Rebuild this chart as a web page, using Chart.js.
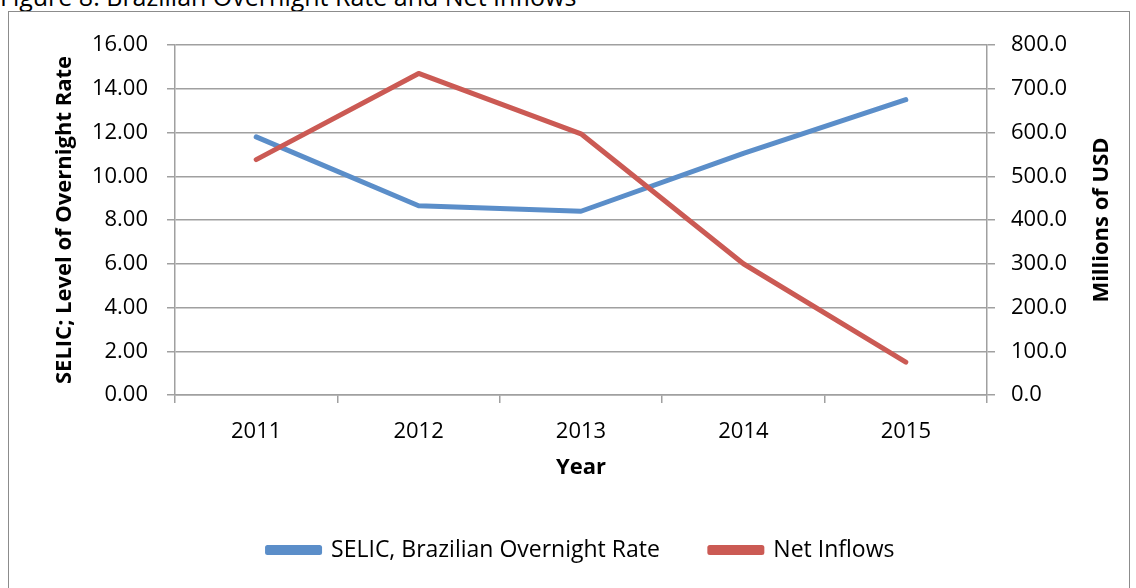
<!DOCTYPE html>
<html>
<head>
<meta charset="utf-8">
<script src="https://cdn.jsdelivr.net/npm/chart.js@4.4.1/dist/chart.umd.min.js"></script>
<style>
    html, body { margin: 0; padding: 0; background: #fff; }
    #wrap { position: relative; width: 1136px; height: 588px; overflow: hidden; }
    #caption {
        position: absolute; left: 0; top: -19px; line-height: 30px;
        font-size: 25px; font-family: "Open Sans", sans-serif; color: #000; white-space: nowrap;
    }
    #frame {
        position: absolute; left: 8px; top: 11px; width: 1120px; height: 600px;
        border: 1.5px solid #8c8c8c; pointer-events: none;
    }
    canvas { position: absolute; left: 0; top: 0; }
</style>
</head>
<body>
<div id="wrap">
    <div id="caption">Figure 8: Brazilian Overnight Rate and Net Inflows</div>
    <div id="frame"></div>
    <canvas id="chart" width="1136" height="588"></canvas>
</div>
<script>
// Chart data
const years = ['2011', '2012', '2013', '2014', '2015'];
const selicRate = [11.8, 8.65, 8.4, 11.05, 13.5];
const netInflows = [538, 735, 597, 300, 75];

const blue = '#5b8ec9';
const red = '#cb5a54';
const gridColor = '#a0a0a0';
const font = '"Open Sans", sans-serif';
const rightTitle = 'Millions of USD';

Chart.defaults.font.family = font;
Chart.defaults.color = '#000';

function fixWidth(w) {
    return scale => { scale.width = w; };
}

// right axis title reads bottom-to-top in the original, so draw it by hand
const rightTitlePlugin = {
    id: 'rightTitle',
    afterDraw(chart) {
        const { ctx, chartArea } = chart;
        ctx.save();
        ctx.translate(1102, (chartArea.top + chartArea.bottom) / 2);
        ctx.rotate(-Math.PI / 2);
        ctx.font = 'bold 22px ' + font;
        ctx.fillStyle = '#000';
        ctx.textAlign = 'center';
        ctx.textBaseline = 'middle';
        ctx.fillText(rightTitle, 0, 0);
        ctx.restore();
    }
};

new Chart(document.getElementById('chart'), {
    type: 'line',
    data: {
        labels: years,
        datasets: [{
            label: 'SELIC, Brazilian Overnight Rate',
            data: selicRate,
            yAxisID: 'y',
            borderColor: blue,
            backgroundColor: blue,
            borderWidth: 5,
            pointRadius: 0,
            tension: 0,
            borderCapStyle: 'round',
            borderJoinStyle: 'round',
            order: 1
        }, {
            label: 'Net Inflows',
            data: netInflows,
            yAxisID: 'y1',
            borderColor: red,
            backgroundColor: red,
            borderWidth: 5,
            pointRadius: 0,
            tension: 0,
            borderCapStyle: 'round',
            borderJoinStyle: 'round',
            order: 0
        }]
    },
    options: {
        responsive: false,
        animation: false,
        layout: {
            padding: { top: 45, bottom: 16.5, left: 0, right: 0 }
        },
        plugins: {
            tooltip: { enabled: false },
            legend: {
                position: 'bottom',
                fullSize: false,
                labels: {
                    boxWidth: 52,
                    boxHeight: 5,
                    padding: 50,
                    font: { size: 23 },
                    color: '#000',
                    sort: (a, b) => a.datasetIndex - b.datasetIndex
                }
            }
        },
        scales: {
            x: {
                offset: true,
                afterFit: scale => { scale.height = 93.5; },
                grid: {
                    offset: true,
                    drawOnChartArea: false,
                    drawTicks: true,
                    tickLength: 8,
                    color: gridColor,
                    lineWidth: 1.5
                },
                border: { display: true, color: gridColor, width: 1.5 },
                ticks: { font: { size: 22 }, padding: 16, maxRotation: 0 },
                title: {
                    display: true,
                    text: 'Year',
                    font: { size: 22, weight: 'bold' },
                    padding: { top: 0, bottom: 8 }
                }
            },
            y: {
                position: 'left',
                min: 0,
                max: 16,
                afterFit: fixWidth(175),
                grid: {
                    color: gridColor,
                    lineWidth: 1.5,
                    tickLength: 8
                },
                border: { display: true, color: gridColor, width: 1.5 },
                ticks: {
                    stepSize: 2,
                    padding: 19,
                    font: { size: 22 },
                    callback: v => v.toFixed(2)
                },
                title: {
                    display: true,
                    text: 'SELIC; Level of Overnight Rate',
                    font: { size: 22, weight: 'bold' },
                    padding: { top: 52, bottom: 0 }
                }
            },
            y1: {
                position: 'right',
                min: 0,
                max: 800,
                afterFit: fixWidth(149),
                grid: {
                    drawOnChartArea: false,
                    color: gridColor,
                    lineWidth: 1.5,
                    tickLength: 8
                },
                border: { display: true, color: gridColor, width: 1.5 },
                ticks: {
                    stepSize: 100,
                    padding: 16,
                    font: { size: 22 },
                    callback: v => v.toFixed(1)
                }
            }
        }
    },
    plugins: [rightTitlePlugin]
});
</script>
</body>
</html>
